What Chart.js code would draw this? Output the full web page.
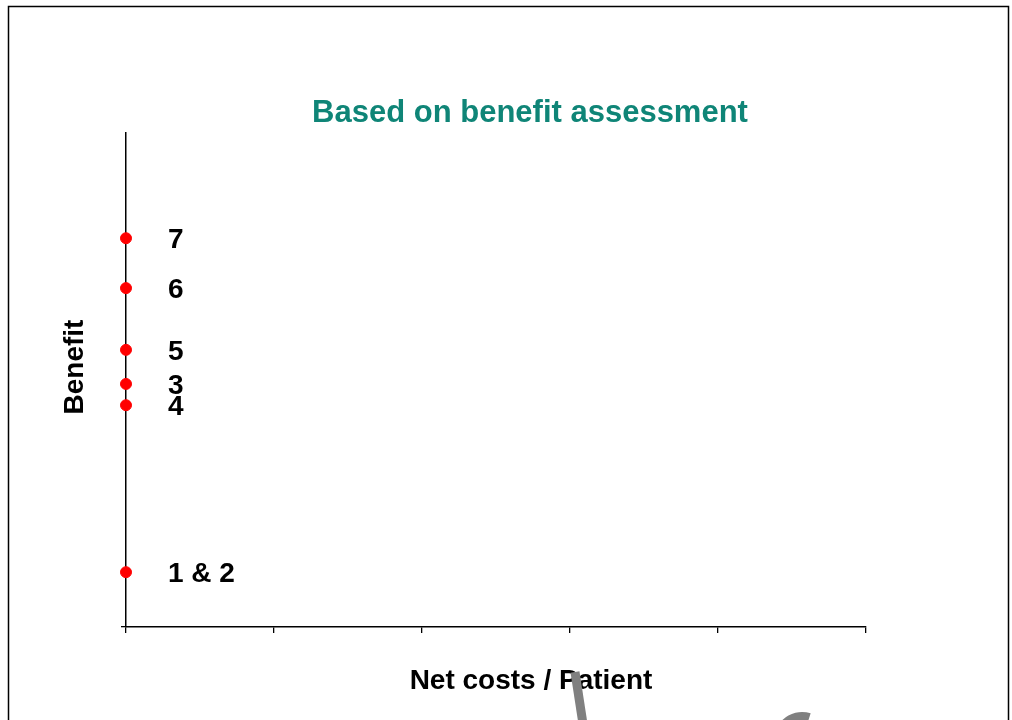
<!DOCTYPE html>
<html>
<head>
<meta charset="utf-8">
<script src="https://cdn.jsdelivr.net/npm/chart.js@4"></script>
<style>
  html, body { margin: 0; padding: 0; background: #fff; }
  #wrap { width: 1012px; height: 720px; position: relative; }
</style>
</head>
<body>
<div id="wrap"><canvas id="benefit-chart" width="1012" height="720"></canvas></div>
<script>
const pointLabels = ['1 & 2', '3', '4', '5', '6', '7']
const netCosts = [0, 0, 0, 0, 0, 0]
const benefits = [1.11, 4.92, 4.49, 5.61, 6.86, 7.87]
const costTicks = [0, 1, 2, 3, 4, 5]
const benefitMax = 10

const chartTitle = 'Based on benefit assessment'
const xTitle = 'Net costs / Patient'
const yTitle = 'Benefit'

initChart()

function initChart() {
  const ctx = document.getElementById('benefit-chart')

  // labels next to points, axis titles, frame and leftover arrow from the slide
  const extras = {
    id: 'extras',
    beforeDraw(chart) {
      const c = chart.ctx
      c.save()
      c.strokeStyle = '#000'
      c.lineWidth = 1.5
      c.beginPath()
      c.moveTo(8.5, 720)
      c.lineTo(8.5, 6.5)
      c.lineTo(1008.5, 6.5)
      c.lineTo(1008.5, 720)
      c.stroke()
      c.restore()
    },
    afterDraw(chart) {
      const c = chart.ctx
      const meta = chart.getDatasetMeta(0)
      c.save()
      c.fillStyle = '#000'
      c.font = 'bold 28px "Liberation Sans", Arial, sans-serif'
      c.textBaseline = 'middle'
      c.textAlign = 'left'
      meta.data.forEach((pt, i) => {
        c.fillText(pointLabels[i], pt.x + 42, pt.y + 2)
      })
      c.textAlign = 'center'
      c.fillText(xTitle, 531, 681)

      c.save()
      c.translate(75, 367)
      c.rotate(-Math.PI / 2)
      c.fillText(yTitle, 0, 0)
      c.restore()

      c.strokeStyle = '#808080'
      c.lineWidth = 9
      c.beginPath()
      c.moveTo(575, 672)
      c.lineTo(583, 724)
      c.stroke()
      c.lineWidth = 8
      c.beginPath()
      c.arc(802, 740, 24, Math.PI * 1.25, Math.PI * 1.6)
      c.stroke()
      c.restore()
    },
  }

  new Chart(ctx, {
    type: 'scatter',
    data: {
      datasets: [
        {
          label: 'Benefit',
          data: netCosts.map((x, i) => ({ x, y: benefits[i] })),
          backgroundColor: '#ff0000',
          borderColor: '#ff0000',
          pointRadius: 5.5,
          clip: false,
        },
      ],
    },
    options: {
      responsive: false,
      animation: false,
      layout: { padding: { left: 48, right: 0, top: 0, bottom: 0 } },
      plugins: {
        legend: { display: false },
        tooltip: { enabled: false },
        title: {
          display: true,
          text: chartTitle,
          color: '#0f8577',
          font: { family: '"Liberation Sans", Arial, sans-serif', size: 31, weight: 'bold' },
          padding: { top: 95, bottom: 0.8 },
        },
      },
      scales: {
        x: {
          type: 'linear',
          min: costTicks[0],
          max: costTicks[costTicks.length - 1],
          afterBuildTicks: (scale) => {
            scale.ticks = costTicks.map((v) => ({ value: v }))
          },
          ticks: { display: false },
          grid: { drawOnChartArea: false, drawTicks: true, tickLength: 6, color: '#000', lineWidth: 1.3 },
          border: { display: true, color: '#000', width: 1.5 },
          afterFit: (scale) => {
            scale.height = 93
          },
        },
        y: {
          type: 'linear',
          position: 'left',
          min: 0,
          max: benefitMax,
          afterBuildTicks: (scale) => {
            scale.ticks = [{ value: 0 }]
          },
          ticks: { display: false },
          grid: { drawOnChartArea: false, drawTicks: true, tickLength: 5, color: '#000', lineWidth: 1.3 },
          border: { display: true, color: '#000', width: 1.5 },
          afterFit: (scale) => {
            scale.width = 78
          },
        },
        y2: {
          type: 'linear',
          position: 'right',
          display: true,
          ticks: { display: false },
          grid: { display: false },
          border: { display: false },
          afterFit: (scale) => {
            scale.width = 146
          },
        },
      },
    },
    plugins: [extras],
  })
}
</script>
</body>
</html>
